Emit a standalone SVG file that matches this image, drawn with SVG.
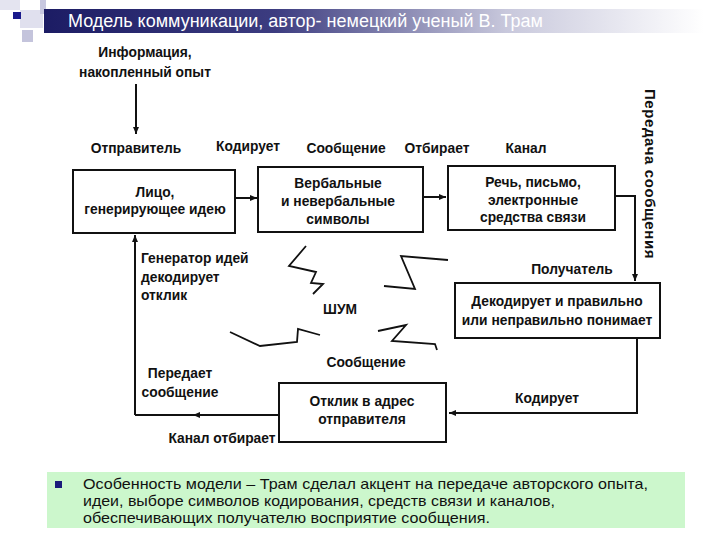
<svg xmlns="http://www.w3.org/2000/svg" width="720" height="540" viewBox="0 0 720 540">
<defs>
<linearGradient id="tg" x1="0" y1="0" x2="1" y2="0">
<stop offset="0" stop-color="#1c1c64"/>
<stop offset="0.35" stop-color="#3c3c80"/>
<stop offset="0.7" stop-color="#c8c8dc"/>
<stop offset="1" stop-color="#ffffff"/>
</linearGradient>
<marker id="ah" markerWidth="8" markerHeight="8" refX="7" refY="4" orient="auto" markerUnits="userSpaceOnUse">
<path d="M0,1 L7,4 L0,7 Z" fill="#111"/>
</marker>
</defs>
<style>
.lbl{font-family:"Liberation Sans",Arial,sans-serif;font-size:13.8px;font-weight:bold;fill:#111}
.box{fill:#fff;stroke:#111;stroke-width:2}
.ln{fill:none;stroke:#111;stroke-width:2}
.zz{fill:none;stroke:#111;stroke-width:1.8;stroke-linejoin:miter}
.body{font-family:"Liberation Sans",Arial,sans-serif;font-size:14.6px;fill:#111}
</style>
<rect width="720" height="540" fill="#fff"/>
<g id="corner">
<rect x="0" y="0" width="20" height="10" fill="#e4e4f0"/>
<rect x="20" y="10" width="23" height="18" fill="#e0e0ee"/>
<rect x="40" y="0" width="6" height="14" fill="#c8c8e0"/>
<rect x="22" y="30" width="11" height="12" fill="#c4c4dc"/>
<rect x="13" y="12" width="8" height="7" fill="#1a1a8c"/>
</g>
<g id="title">
<rect x="44" y="9" width="660" height="24" fill="url(#tg)"/>
<text x="68" y="27" font-family="Liberation Sans,Arial,sans-serif" font-size="18" fill="#fff">Модель коммуникации, автор- немецкий ученый В. Трам</text>
</g>
<g id="connectors">
<line class="ln" x1="136" y1="84" x2="136" y2="134" marker-end="url(#ah)"/>
<line class="ln" x1="235" y1="198" x2="257" y2="198" marker-end="url(#ah)"/>
<line class="ln" x1="423" y1="197" x2="446" y2="197" marker-end="url(#ah)"/>
<polyline class="ln" points="615,196 635,196 635,281" marker-end="url(#ah)"/>
<polyline class="ln" points="637,338 637,413 449,413" marker-end="url(#ah)"/>
<line class="ln" x1="280" y1="415" x2="135" y2="415"/>
<line x1="200" y1="415" x2="193" y2="415" stroke="#111" stroke-width="2" marker-end="url(#ah)"/>
<line class="ln" x1="135" y1="415" x2="135" y2="235" marker-end="url(#ah)"/>
</g>
<g id="noise">
<polyline class="zz" points="306,246 289,266 316,272 311,283 323,284 313,294"/>
<polyline class="zz" points="448,260 401,256 415,289 384,286"/>
<polyline class="zz" points="230,332 260,346 297,342 298,329 320,335"/>
<polyline class="zz" points="378,331 406,325 392,341 435,344 437,350"/>
<text class="lbl" x="340" y="314" text-anchor="middle">ШУМ</text>
</g>
<g id="info">
<text class="lbl" x="145" y="57" text-anchor="middle">Информация,</text>
<text class="lbl" x="145" y="77" text-anchor="middle">накопленный опыт</text>
</g>
<g id="labels-top">
<text class="lbl" x="136" y="153" text-anchor="middle">Отправитель</text>
<text class="lbl" x="248" y="151" text-anchor="middle">Кодирует</text>
<text class="lbl" x="346" y="153" text-anchor="middle">Сообщение</text>
<text class="lbl" x="437" y="153" text-anchor="middle">Отбирает</text>
<text class="lbl" x="526" y="153" text-anchor="middle">Канал</text>
</g>
<g id="sender">
<rect class="box" x="73" y="170" width="162" height="63"/>
<text class="lbl" x="155" y="197" text-anchor="middle">Лицо,</text>
<text class="lbl" x="155" y="214" text-anchor="middle">генерирующее идею</text>
</g>
<g id="symbols">
<rect class="box" x="258" y="167" width="165" height="65"/>
<text class="lbl" x="338" y="188" text-anchor="middle">Вербальные</text>
<text class="lbl" x="338" y="206" text-anchor="middle">и невербальные</text>
<text class="lbl" x="338" y="224" text-anchor="middle">символы</text>
</g>
<g id="channel">
<rect class="box" x="448" y="166" width="167" height="64"/>
<text class="lbl" x="533" y="187" text-anchor="middle">Речь, письмо,</text>
<text class="lbl" x="533" y="205" text-anchor="middle">электронные</text>
<text class="lbl" x="533" y="222" text-anchor="middle">средства связи</text>
</g>
<g id="transfer">
<text class="lbl" transform="translate(645,174) rotate(90)" text-anchor="middle" style="font-size:15px;letter-spacing:0.6px">Передача сообщения</text>
</g>
<g id="receiver">
<text class="lbl" x="572" y="274" text-anchor="middle">Получатель</text>
<rect class="box" x="455" y="283" width="205" height="55"/>
<text class="lbl" x="557" y="306" text-anchor="middle">Декодирует и правильно</text>
<text class="lbl" x="557" y="325" text-anchor="middle">или неправильно понимает</text>
</g>
<g id="feedback-labels">
<text class="lbl" x="547" y="403" text-anchor="middle">Кодирует</text>
<text class="lbl" x="366" y="367" text-anchor="middle">Сообщение</text>
<text class="lbl" x="141" y="263">Генератор идей</text>
<text class="lbl" x="141" y="282">декодирует</text>
<text class="lbl" x="141" y="300">отклик</text>
<text class="lbl" x="180" y="378" text-anchor="middle">Передает</text>
<text class="lbl" x="180" y="397" text-anchor="middle">сообщение</text>
<text class="lbl" x="222" y="443" text-anchor="middle">Канал отбирает</text>
</g>
<g id="response">
<rect class="box" x="279" y="383" width="167" height="59"/>
<text class="lbl" x="362" y="406" text-anchor="middle">Отклик в адрес</text>
<text class="lbl" x="362" y="424" text-anchor="middle">отправителя</text>
</g>
<g id="note">
<rect x="47" y="472" width="638" height="56" fill="#ccf7cc"/>
<rect x="55" y="481" width="7" height="7" fill="#1a1a7a"/>
<text class="body" x="83" y="489" textLength="565" lengthAdjust="spacingAndGlyphs">Особенность модели – Трам сделал акцент на передаче авторского опыта,</text>
<text class="body" x="83" y="506" textLength="472" lengthAdjust="spacingAndGlyphs">идеи, выборе символов кодирования, средств связи и каналов,</text>
<text class="body" x="83" y="523" textLength="407" lengthAdjust="spacingAndGlyphs">обеспечивающих получателю восприятие сообщения.</text>
</g>
</svg>
